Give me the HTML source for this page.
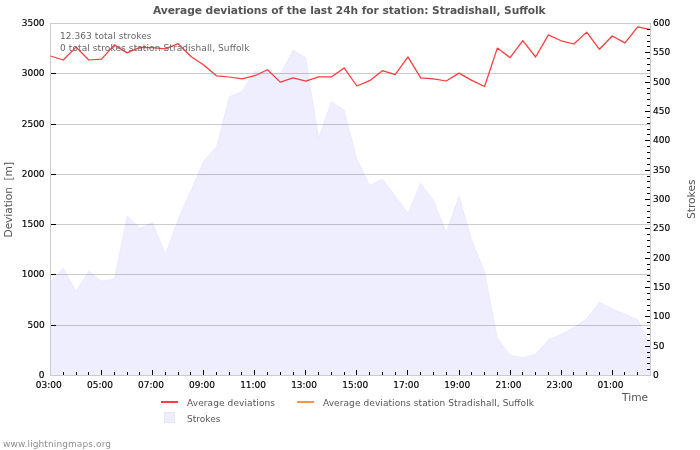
<!DOCTYPE html>
<html lang="en"><head><meta charset="utf-8"><title>Average deviations of the last 24h for station: Stradishall, Suffolk</title>
<style>html,body{margin:0;padding:0;background:#fff}body{width:700px;height:450px;overflow:hidden}svg{display:block}text{font-family:'DejaVu Sans','Liberation Sans',sans-serif}</style>
</head><body>
<svg width="700" height="450" viewBox="0 0 700 450">
<rect width="700" height="450" fill="#fff"/>
<g fill="#cbcbcb" shape-rendering="crispEdges">
<rect x="50" y="325" width="601" height="1"/>
<rect x="50" y="274" width="601" height="1"/>
<rect x="50" y="224" width="601" height="1"/>
<rect x="50" y="174" width="601" height="1"/>
<rect x="50" y="124" width="601" height="1"/>
<rect x="50" y="73" width="601" height="1"/>
<rect x="50" y="23" width="601" height="1"/>
</g>
<polygon fill="#0000ff" fill-opacity="0.068" points="50.5,375 50.50,282.00 63.27,268.00 76.03,291.00 88.80,271.00 101.56,281.00 114.33,279.00 127.10,216.00 139.86,228.00 152.63,222.60 165.39,254.00 178.16,219.00 190.93,190.00 203.69,161.00 216.46,147.00 229.22,96.60 241.99,91.40 254.76,71.20 267.52,72.50 280.29,74.00 293.05,50.00 305.82,57.60 318.59,138.00 331.35,101.60 344.12,110.00 356.88,159.00 369.65,185.60 382.41,179.00 395.18,196.00 407.95,213.00 420.71,183.00 433.48,200.50 446.24,232.40 459.01,196.00 471.78,240.00 484.54,271.00 497.31,338.00 510.07,355.00 522.84,357.60 535.61,354.00 548.37,339.60 561.14,334.40 573.90,327.00 586.67,318.80 599.44,302.20 612.20,308.40 624.97,314.00 637.73,319.60 650.50,345.00 650.5,375"/>
<polyline fill="none" stroke="#0000ff" stroke-opacity="0.045" stroke-width="1" stroke-linejoin="round" points="50.50,282.00 63.27,268.00 76.03,291.00 88.80,271.00 101.56,281.00 114.33,279.00 127.10,216.00 139.86,228.00 152.63,222.60 165.39,254.00 178.16,219.00 190.93,190.00 203.69,161.00 216.46,147.00 229.22,96.60 241.99,91.40 254.76,71.20 267.52,72.50 280.29,74.00 293.05,50.00 305.82,57.60 318.59,138.00 331.35,101.60 344.12,110.00 356.88,159.00 369.65,185.60 382.41,179.00 395.18,196.00 407.95,213.00 420.71,183.00 433.48,200.50 446.24,232.40 459.01,196.00 471.78,240.00 484.54,271.00 497.31,338.00 510.07,355.00 522.84,357.60 535.61,354.00 548.37,339.60 561.14,334.40 573.90,327.00 586.67,318.80 599.44,302.20 612.20,308.40 624.97,314.00 637.73,319.60 650.50,345.00"/>
<g fill="#cbcbcb" shape-rendering="crispEdges">
<rect x="50" y="23" width="1" height="353"/>
<rect x="650" y="23" width="1" height="353"/>
<rect x="50" y="375" width="601" height="1"/>
</g>
<polyline fill="none" stroke="#ff3a3a" stroke-width="1.25" stroke-linejoin="round" points="50.50,56.00 63.27,60.00 76.03,47.10 88.80,60.00 101.56,59.10 114.33,44.90 127.10,52.90 139.86,47.40 152.63,47.70 165.39,48.80 178.16,43.70 190.93,56.50 203.69,64.90 216.46,75.80 229.22,77.00 241.99,78.90 254.76,75.70 267.52,69.70 280.29,82.10 293.05,77.90 305.82,81.10 318.59,76.90 331.35,76.90 344.12,67.90 356.88,86.00 369.65,80.70 382.41,70.70 395.18,74.60 407.95,56.90 420.71,77.90 433.48,78.90 446.24,81.00 459.01,73.10 471.78,80.40 484.54,86.50 497.31,48.10 510.07,57.70 522.84,40.60 535.61,57.00 548.37,34.90 561.14,40.80 573.90,44.00 586.67,32.10 599.44,49.30 612.20,36.00 624.97,42.90 637.73,26.90 650.50,29.70"/>
<g fill="#000" shape-rendering="crispEdges">
<rect x="51" y="325" width="5" height="1"/>
<rect x="51" y="274" width="5" height="1"/>
<rect x="51" y="224" width="5" height="1"/>
<rect x="51" y="174" width="5" height="1"/>
<rect x="51" y="124" width="5" height="1"/>
<rect x="51" y="73" width="5" height="1"/>
<rect x="647" y="369" width="3" height="1"/>
<rect x="647" y="363" width="3" height="1"/>
<rect x="647" y="357" width="3" height="1"/>
<rect x="647" y="352" width="3" height="1"/>
<rect x="645" y="346" width="5" height="1"/>
<rect x="647" y="340" width="3" height="1"/>
<rect x="647" y="334" width="3" height="1"/>
<rect x="647" y="328" width="3" height="1"/>
<rect x="647" y="322" width="3" height="1"/>
<rect x="645" y="316" width="5" height="1"/>
<rect x="647" y="310" width="3" height="1"/>
<rect x="647" y="305" width="3" height="1"/>
<rect x="647" y="299" width="3" height="1"/>
<rect x="647" y="293" width="3" height="1"/>
<rect x="645" y="287" width="5" height="1"/>
<rect x="647" y="281" width="3" height="1"/>
<rect x="647" y="275" width="3" height="1"/>
<rect x="647" y="269" width="3" height="1"/>
<rect x="647" y="264" width="3" height="1"/>
<rect x="645" y="258" width="5" height="1"/>
<rect x="647" y="252" width="3" height="1"/>
<rect x="647" y="246" width="3" height="1"/>
<rect x="647" y="240" width="3" height="1"/>
<rect x="647" y="234" width="3" height="1"/>
<rect x="645" y="228" width="5" height="1"/>
<rect x="647" y="222" width="3" height="1"/>
<rect x="647" y="217" width="3" height="1"/>
<rect x="647" y="211" width="3" height="1"/>
<rect x="647" y="205" width="3" height="1"/>
<rect x="645" y="199" width="5" height="1"/>
<rect x="647" y="193" width="3" height="1"/>
<rect x="647" y="187" width="3" height="1"/>
<rect x="647" y="181" width="3" height="1"/>
<rect x="647" y="176" width="3" height="1"/>
<rect x="645" y="170" width="5" height="1"/>
<rect x="647" y="164" width="3" height="1"/>
<rect x="647" y="158" width="3" height="1"/>
<rect x="647" y="152" width="3" height="1"/>
<rect x="647" y="146" width="3" height="1"/>
<rect x="645" y="140" width="5" height="1"/>
<rect x="647" y="134" width="3" height="1"/>
<rect x="647" y="129" width="3" height="1"/>
<rect x="647" y="123" width="3" height="1"/>
<rect x="647" y="117" width="3" height="1"/>
<rect x="645" y="111" width="5" height="1"/>
<rect x="647" y="105" width="3" height="1"/>
<rect x="647" y="99" width="3" height="1"/>
<rect x="647" y="93" width="3" height="1"/>
<rect x="647" y="88" width="3" height="1"/>
<rect x="645" y="82" width="5" height="1"/>
<rect x="647" y="76" width="3" height="1"/>
<rect x="647" y="70" width="3" height="1"/>
<rect x="647" y="64" width="3" height="1"/>
<rect x="647" y="58" width="3" height="1"/>
<rect x="645" y="52" width="5" height="1"/>
<rect x="647" y="46" width="3" height="1"/>
<rect x="647" y="41" width="3" height="1"/>
<rect x="647" y="35" width="3" height="1"/>
<rect x="647" y="29" width="3" height="1"/>
<rect x="63" y="372" width="1" height="3"/>
<rect x="76" y="372" width="1" height="3"/>
<rect x="88" y="372" width="1" height="3"/>
<rect x="101" y="370" width="1" height="5"/>
<rect x="114" y="372" width="1" height="3"/>
<rect x="127" y="372" width="1" height="3"/>
<rect x="139" y="372" width="1" height="3"/>
<rect x="152" y="370" width="1" height="5"/>
<rect x="165" y="372" width="1" height="3"/>
<rect x="178" y="372" width="1" height="3"/>
<rect x="190" y="372" width="1" height="3"/>
<rect x="203" y="370" width="1" height="5"/>
<rect x="216" y="372" width="1" height="3"/>
<rect x="229" y="372" width="1" height="3"/>
<rect x="241" y="372" width="1" height="3"/>
<rect x="254" y="370" width="1" height="5"/>
<rect x="267" y="372" width="1" height="3"/>
<rect x="280" y="372" width="1" height="3"/>
<rect x="293" y="372" width="1" height="3"/>
<rect x="305" y="370" width="1" height="5"/>
<rect x="318" y="372" width="1" height="3"/>
<rect x="331" y="372" width="1" height="3"/>
<rect x="344" y="372" width="1" height="3"/>
<rect x="356" y="370" width="1" height="5"/>
<rect x="369" y="372" width="1" height="3"/>
<rect x="382" y="372" width="1" height="3"/>
<rect x="395" y="372" width="1" height="3"/>
<rect x="407" y="370" width="1" height="5"/>
<rect x="420" y="372" width="1" height="3"/>
<rect x="433" y="372" width="1" height="3"/>
<rect x="446" y="372" width="1" height="3"/>
<rect x="459" y="370" width="1" height="5"/>
<rect x="471" y="372" width="1" height="3"/>
<rect x="484" y="372" width="1" height="3"/>
<rect x="497" y="372" width="1" height="3"/>
<rect x="510" y="370" width="1" height="5"/>
<rect x="522" y="372" width="1" height="3"/>
<rect x="535" y="372" width="1" height="3"/>
<rect x="548" y="372" width="1" height="3"/>
<rect x="561" y="370" width="1" height="5"/>
<rect x="573" y="372" width="1" height="3"/>
<rect x="586" y="372" width="1" height="3"/>
<rect x="599" y="372" width="1" height="3"/>
<rect x="612" y="370" width="1" height="5"/>
<rect x="624" y="372" width="1" height="3"/>
<rect x="637" y="372" width="1" height="3"/>
</g>
<text x="153" y="14" font-size="10.67" font-weight="bold" fill="#555" textLength="392.7" lengthAdjust="spacing">Average deviations of the last 24h for station: Stradishall, Suffolk</text>
<text x="60" y="39.4" font-size="9" fill="#666" textLength="91.5">12.363 total strokes</text>
<text x="60" y="50.5" font-size="9" fill="#666" textLength="189.4">0 total strokes station Stradishall, Suffolk</text>
<g font-size="9" fill="#000" stroke="#000" stroke-width="0.15" text-anchor="end">
<text transform="translate(44.6,378.0) scale(1,1.06)">0</text>
<text transform="translate(44.6,328.0) scale(1,1.06)">500</text>
<text transform="translate(44.6,277.0) scale(1,1.06)">1000</text>
<text transform="translate(44.6,227.0) scale(1,1.06)">1500</text>
<text transform="translate(44.6,177.0) scale(1,1.06)">2000</text>
<text transform="translate(44.6,127.0) scale(1,1.06)">2500</text>
<text transform="translate(44.6,76.0) scale(1,1.06)">3000</text>
<text transform="translate(44.6,26.0) scale(1,1.06)">3500</text>
</g>
<g font-size="9" fill="#000" stroke="#000" stroke-width="0.15">
<text transform="translate(653.1,378.0) scale(1,1.06)">0</text>
<text transform="translate(653.1,349.0) scale(1,1.06)">50</text>
<text transform="translate(653.1,319.0) scale(1,1.06)">100</text>
<text transform="translate(653.1,290.0) scale(1,1.06)">150</text>
<text transform="translate(653.1,261.0) scale(1,1.06)">200</text>
<text transform="translate(653.1,231.0) scale(1,1.06)">250</text>
<text transform="translate(653.1,202.0) scale(1,1.06)">300</text>
<text transform="translate(653.1,173.0) scale(1,1.06)">350</text>
<text transform="translate(653.1,143.0) scale(1,1.06)">400</text>
<text transform="translate(653.1,114.0) scale(1,1.06)">450</text>
<text transform="translate(653.1,85.0) scale(1,1.06)">500</text>
<text transform="translate(653.1,55.0) scale(1,1.06)">550</text>
<text transform="translate(653.1,26.0) scale(1,1.06)">600</text>
</g>
<g font-size="9" fill="#000" stroke="#000" stroke-width="0.15" text-anchor="middle">
<text transform="translate(48.8,388.1) scale(1,1.06)">03:00</text>
<text transform="translate(99.9,388.1) scale(1,1.06)">05:00</text>
<text transform="translate(150.9,388.1) scale(1,1.06)">07:00</text>
<text transform="translate(202.0,388.1) scale(1,1.06)">09:00</text>
<text transform="translate(253.1,388.1) scale(1,1.06)">11:00</text>
<text transform="translate(304.1,388.1) scale(1,1.06)">13:00</text>
<text transform="translate(355.2,388.1) scale(1,1.06)">15:00</text>
<text transform="translate(406.2,388.1) scale(1,1.06)">17:00</text>
<text transform="translate(457.3,388.1) scale(1,1.06)">19:00</text>
<text transform="translate(508.4,388.1) scale(1,1.06)">21:00</text>
<text transform="translate(559.4,388.1) scale(1,1.06)">23:00</text>
<text transform="translate(610.5,388.1) scale(1,1.06)">01:00</text>
</g>
<text transform="translate(11.5,237.5) rotate(-90)" font-size="10.67" fill="#555" style="white-space:pre" textLength="75.6">Deviation  [m]</text>
<text transform="translate(694.5,219) rotate(-90)" font-size="10.67" fill="#555">Strokes</text>
<text x="622" y="401" font-size="10.67" fill="#555">Time</text>
<rect x="161" y="401" width="17" height="2" fill="#ff4040"/>
<text x="187" y="405.5" font-size="9" fill="#555" textLength="88">Average deviations</text>
<rect x="297" y="401" width="17" height="2" fill="#ff9246"/>
<text x="323" y="405.5" font-size="9" fill="#555" textLength="211">Average deviations station Stradishall, Suffolk</text>
<rect x="164.5" y="412.5" width="10" height="10" fill="#eeeeff" stroke="#e6e6ff" stroke-width="1"/>
<text x="187" y="421.5" font-size="9" fill="#555">Strokes</text>
<text x="3" y="447" font-size="9" fill="#909090" textLength="108">www.lightningmaps.org</text>
</svg></body></html>
